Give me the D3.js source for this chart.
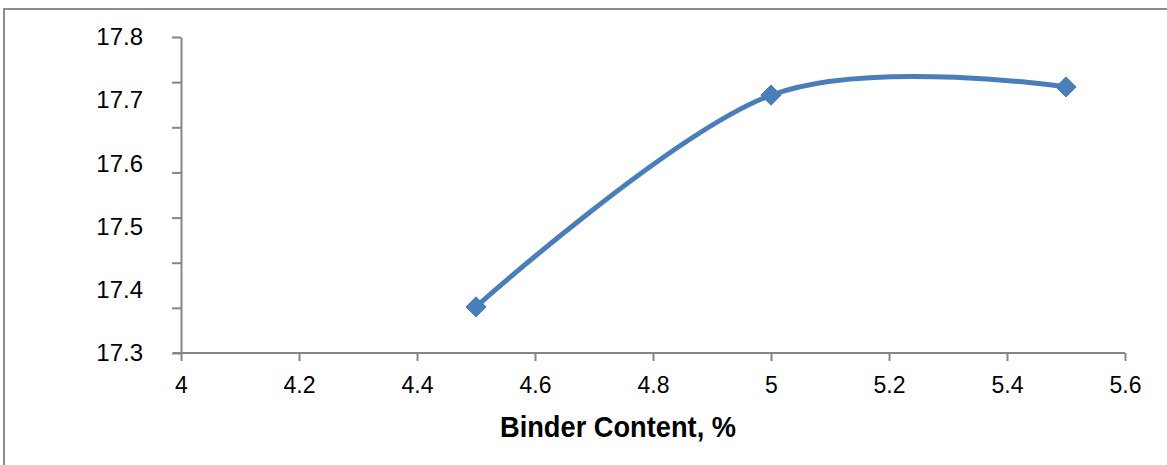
<!DOCTYPE html>
<html>
<head>
<meta charset="utf-8">
<script src="https://cdn.jsdelivr.net/npm/d3@7"></script>
<style>
  body { margin: 0; background: #fff; }
  svg { display: block; }
</style>
</head>
<body>
<script>
// binder content (%) vs value
const binder = [4.5, 5, 5.5];
const values = [17.373, 17.708, 17.721];
const xTicks = [4, 4.2, 4.4, 4.6, 4.8, 5, 5.2, 5.4, 5.6];
const yLabels = [17.3, 17.4, 17.5, 17.6, 17.7, 17.8];
const xTitle = "Binder Content, %";

const W = 1167, H = 465;
const svg = d3.select("body").append("svg")
  .attr("width", W).attr("height", H);

// outer frame, runs off right and bottom edge
svg.append("rect")
  .attr("x", 4).attr("y", 9)
  .attr("width", W + 10).attr("height", H + 10)
  .attr("fill", "none").attr("stroke", "#8c8c8c").attr("stroke-width", 2);

const x = d3.scaleLinear().domain([4, 5.6]).range([181, 1125]);
const y = d3.scaleLinear().domain([17.3, 17.8]).range([353, 37]);

const axisColor = "#868686";

// x axis
const gx = svg.append("g").attr("transform", "translate(0,353)")
  .call(d3.axisBottom(x).tickValues(xTicks).tickSize(8).tickSizeOuter(0)
    .tickFormat(d3.format("")));
gx.select(".domain").attr("stroke", axisColor).attr("stroke-width", 2)
  .attr("d", "M173,0H" + x(5.6));
gx.selectAll(".tick line").attr("stroke", axisColor).attr("stroke-width", 2);
gx.selectAll(".tick text")
  .attr("y", 24).attr("dy", "0.71em")
  .attr("fill", "#000")
  .style("font-family", "'Liberation Sans', Arial, sans-serif")
  .style("font-size", "23px");

// y axis: tick marks split the range in 7, labels every 0.1
const yMarks = d3.range(8).map(i => 17.3 + i * 0.5 / 7);
const gy = svg.append("g").attr("transform", "translate(181,0)")
  .call(d3.axisLeft(y).tickValues(yMarks).tickSize(9).tickSizeOuter(0)
    .tickFormat(""));
gy.select(".domain").attr("stroke", axisColor).attr("stroke-width", 2);
gy.selectAll(".tick line").attr("stroke", axisColor).attr("stroke-width", 2);

const gyl = svg.append("g").attr("transform", "translate(181,0)")
  .call(d3.axisLeft(y).tickValues(yLabels).tickSize(0).tickPadding(38)
    .tickFormat(d3.format(".1f")));
gyl.select(".domain").remove();
gyl.selectAll(".tick text")
  .attr("fill", "#000")
  .style("font-family", "'Liberation Sans', Arial, sans-serif")
  .style("font-size", "24px");

// axis title (condensed bold)
svg.append("text")
  .attr("x", 618).attr("y", 437)
  .attr("text-anchor", "middle")
  .attr("textLength", 236)
  .attr("lengthAdjust", "spacingAndGlyphs")
  .style("font-family", "'Liberation Sans Narrow', 'Arial Narrow', 'Liberation Sans', sans-serif")
  .style("font-weight", "bold")
  .style("font-size", "30px")
  .text(xTitle);

// smoothed series line
const pts = binder.map((b, i) => [b, values[i]]);
const line = d3.line()
  .x(d => x(d[0])).y(d => y(d[1]))
  .curve(d3.curveCardinal.tension(0));

svg.append("path")
  .datum(pts)
  .attr("d", line)
  .attr("fill", "none")
  .attr("stroke", "#4a7ebb")
  .attr("stroke-width", 5)
  .attr("stroke-linecap", "round");

// diamond markers
svg.selectAll(".mk")
  .data(pts).enter()
  .append("path")
  .attr("class", "mk")
  .attr("d", d3.symbol().type(d3.symbolDiamond2).size(260))
  .attr("transform", d => "translate(" + x(d[0]) + "," + y(d[1]) + ")")
  .attr("fill", "#4a7ebb")
  .attr("stroke", "#4a7ebb")
  .attr("stroke-width", 1);
</script>
</body>
</html>
